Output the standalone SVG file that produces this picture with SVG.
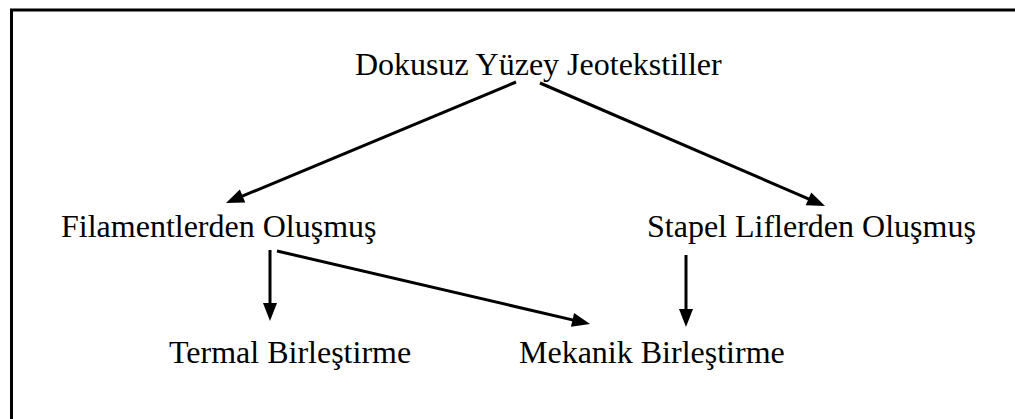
<svg xmlns="http://www.w3.org/2000/svg" width="1015" height="419" viewBox="0 0 1015 419">
<style>
.t{font-family:"Liberation Serif","Times New Roman",serif;font-size:32px;fill:#000}
.c{stroke:#000;stroke-width:3;fill:none}
</style>
<defs>
<marker id="ah" markerUnits="userSpaceOnUse" markerWidth="18" markerHeight="14" refX="12" refY="7" orient="auto" overflow="visible">
<path d="M0,0 L18,7 L0,14 z" fill="#000"/>
</marker>
</defs>
<rect x="0" y="0" width="1015" height="419" fill="#fff"/>
<rect x="11.5" y="10" width="1100" height="500" fill="none" stroke="#000" stroke-width="3"/>
<g id="n1"><text class="t" x="355" y="75">Dokusuz Yüzey Jeotekstiller</text></g>
<g id="n2"><text class="t" x="61" y="237">Filamentlerden Oluşmuş</text></g>
<g id="n3"><text class="t" x="647" y="237">Stapel Liflerden Oluşmuş</text></g>
<g id="n4"><text class="t" x="169" y="363">Termal Birleştirme</text></g>
<g id="n5"><text class="t" x="519" y="363">Mekanik Birleştirme</text></g>
<g id="connectors">
<line class="c" x1="516" y1="82" x2="231.5" y2="200.7" marker-end="url(#ah)"/>
<line class="c" x1="540" y1="83" x2="819.5" y2="203.6" marker-end="url(#ah)"/>
<line class="c" x1="270" y1="250" x2="270" y2="315" marker-end="url(#ah)"/>
<line class="c" x1="277" y1="251" x2="584.2" y2="322.6" marker-end="url(#ah)"/>
<line class="c" x1="686" y1="255" x2="686" y2="321" marker-end="url(#ah)"/>
</g>
</svg>
